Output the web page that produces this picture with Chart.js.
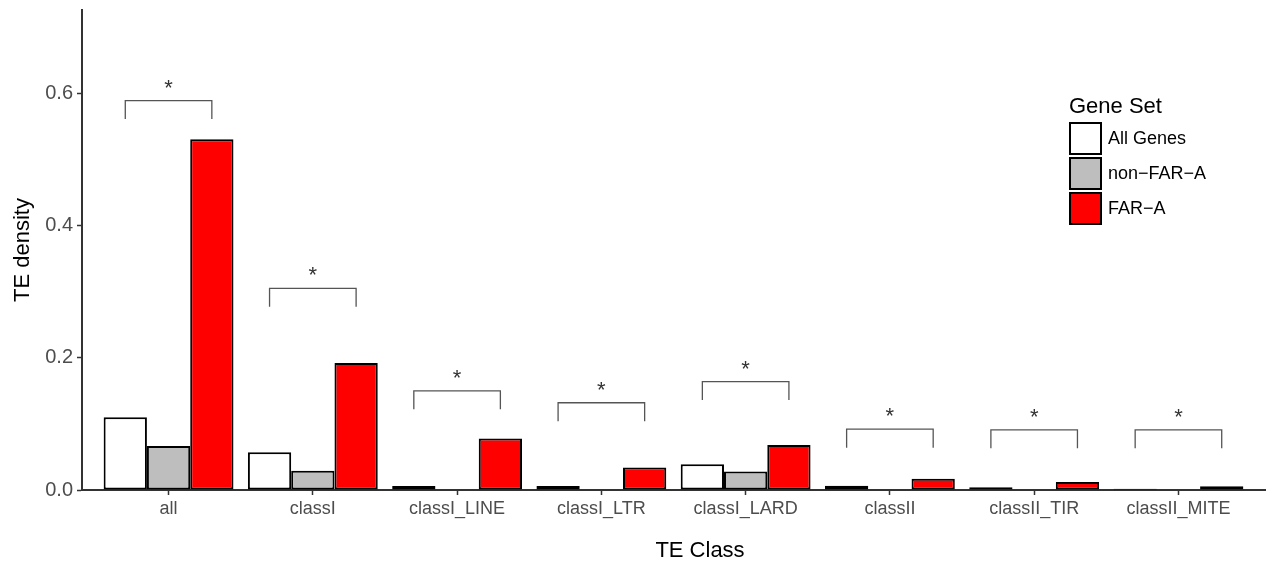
<!DOCTYPE html>
<html>
<head>
<meta charset="utf-8">
<script src="https://cdn.jsdelivr.net/npm/chart.js@4/dist/chart.umd.min.js"></script>
<style>
	html, body { margin: 0; padding: 0; background: #fff; }
	#wrap { width: 1266px; height: 562px; }
</style>
</head>
<body>
<div id="wrap"><canvas id="te-chart" width="1266" height="562"></canvas></div>
<script>
const categories = [ 'all', 'classI', 'classI_LINE', 'classI_LTR', 'classI_LARD', 'classII', 'classII_TIR', 'classII_MITE' ];
const seriesNames = [ 'All Genes', 'non\u2212FAR\u2212A', 'FAR\u2212A' ];
const seriesColors = [ '#ffffff', '#bebebe', '#ff0000' ];
const allGenes = [ 0.110, 0.057, 0.006, 0.006, 0.039, 0.0065, 0.004, 0.002 ];
const nonFarA = [ 0.0665, 0.029, 0, 0, 0.028, 0, 0, 0 ];
const farA = [ 0.5305, 0.192, 0.078, 0.034, 0.068, 0.017, 0.012, 0.0056 ];
// significance brackets (top of bracket, in TE density units)
const bracketTop = [ 0.589, 0.305, 0.150, 0.132, 0.164, 0.092, 0.091, 0.091 ];
const bracketMark = [ '*', '*', '*', '*', '*', '*', '*', '*' ];
const yTicks = [ 0, 0.2, 0.4, 0.6 ];
const xTitle = 'TE Class';

const FONT = "'Liberation Sans', Arial, Helvetica, sans-serif";
Chart.defaults.font.family = FONT;

const brackets = {
	id: 'brackets',
	afterDatasetsDraw( chart ) {
		const ctx = chart.ctx;
		const y = chart.scales.y;
		const first = chart.getDatasetMeta( 0 ).data;
		const last = chart.getDatasetMeta( 2 ).data;
		const leg = 0.028;
		ctx.save();
		ctx.strokeStyle = '#555555';
		ctx.lineWidth = 1.3;
		ctx.fillStyle = '#333333';
		ctx.font = '22px ' + FONT;
		ctx.textAlign = 'center';
		ctx.textBaseline = 'alphabetic';
		bracketTop.forEach( ( top, i ) => {
			const x0 = first[ i ].x;
			const x1 = last[ i ].x;
			const yt = y.getPixelForValue( top );
			const yb = y.getPixelForValue( top - leg );
			ctx.beginPath();
			ctx.moveTo( x0, yb );
			ctx.lineTo( x0, yt );
			ctx.lineTo( x1, yt );
			ctx.lineTo( x1, yb );
			ctx.stroke();
			ctx.fillText( bracketMark[ i ], ( x0 + x1 ) / 2, yt - 6 );
		} );
		ctx.restore();
	},
};

const geneLegend = {
	id: 'geneLegend',
	afterDraw( chart ) {
		const ctx = chart.ctx;
		const left = 1069;
		const top = 122;
		const box = 33;
		const gap = 2;
		ctx.save();
		ctx.fillStyle = '#000';
		ctx.font = '22px ' + FONT;
		ctx.textAlign = 'left';
		ctx.textBaseline = 'alphabetic';
		ctx.fillText( 'Gene Set', left, 113 );
		ctx.font = '18px ' + FONT;
		ctx.textBaseline = 'middle';
		chart.data.datasets.forEach( ( ds, i ) => {
			const by = top + i * ( box + gap );
			ctx.fillStyle = ds.backgroundColor;
			ctx.fillRect( left, by, box, box );
			ctx.strokeStyle = '#000';
			ctx.lineWidth = 2;
			ctx.strokeRect( left + 1, by + 1, box - 2, box - 2 );
			ctx.fillStyle = '#000';
			ctx.fillText( ds.label, left + box + 6, by + box / 2 + 1 );
		} );

		// x axis title, placed like the original figure
		ctx.font = '22px ' + FONT;
		ctx.textAlign = 'center';
		ctx.textBaseline = 'alphabetic';
		ctx.fillText( xTitle, 700, 557 );
		ctx.restore();
	},
};

const datasets = [ allGenes, nonFarA, farA ].map( ( values, i ) => ( {
	label: seriesNames[ i ],
	data: values,
	backgroundColor: seriesColors[ i ],
	borderColor: '#000000',
	borderWidth: 2,
	borderSkipped: false,
	categoryPercentage: 0.9,
	barPercentage: 1,
} ) );

new Chart( document.getElementById( 'te-chart' ), {
	type: 'bar',
	data: { labels: categories, datasets },
	options: {
		responsive: false,
		animation: false,
		events: [],
		layout: { padding: { top: 10, right: 1, left: 0, bottom: 0 } },
		plugins: {
			legend: { display: false },
			tooltip: { enabled: false },
		},
		scales: {
			x: {
				// ggplot style expansion: 0.6 of a category on each side
				afterBuildTicks: ( scale ) => {
					scale._startValue = -0.6;
					scale._valueRange = categories.length - 1 + 1.2;
				},
				afterFit: ( scale ) => {
					scale.height = 72;
				},
				border: { display: true, color: '#333333', width: 2 },
				grid: {
					offset: false,
					drawOnChartArea: false,
					drawTicks: true,
					tickLength: 5,
					color: '#333333',
					tickWidth: 1.5,
				},
				ticks: {
					color: '#4d4d4d',
					font: { size: 18 },
					padding: 3,
					maxRotation: 0,
					autoSkip: false,
				},
				title: { display: false },
			},
			y: {
				min: 0,
				max: 0.726,
				afterBuildTicks: ( scale ) => {
					scale.ticks = yTicks.map( ( v ) => ( { value: v } ) );
				},
				afterFit: ( scale ) => {
					scale.width = 82;
					scale.paddingTop = 0;
					scale.paddingBottom = 0;
				},
				border: { display: true, color: '#333333', width: 2 },
				grid: {
					drawOnChartArea: false,
					drawTicks: true,
					tickLength: 5,
					color: '#333333',
					tickWidth: 1.5,
				},
				ticks: {
					color: '#4d4d4d',
					font: { size: 20 },
					padding: 4,
					callback: ( v ) => Number( v ).toFixed( 1 ),
				},
				title: {
					display: true,
					text: 'TE density',
					color: '#000',
					font: { size: 22 },
					padding: { top: 10, bottom: 0 },
				},
			},
		},
	},
	plugins: [ brackets, geneLegend ],
} );
</script>
</body>
</html>
